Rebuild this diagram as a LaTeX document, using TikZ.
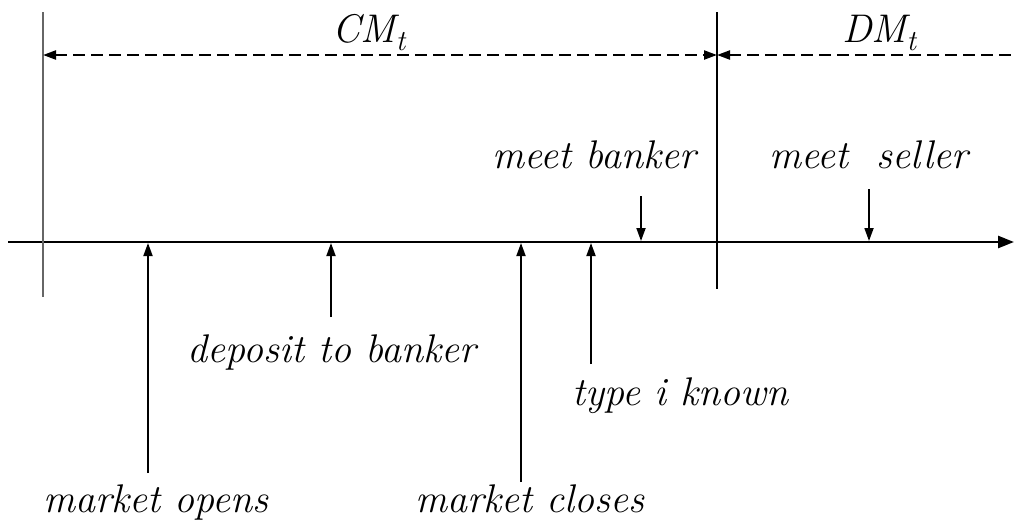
\documentclass[tikz,border=0pt]{standalone}
\usetikzlibrary{arrows.meta}
\newcommand{\subt}{\raisebox{-0.22em}{\fontsize{29}{32}\selectfont\itshape t}}
\begin{document}
\begin{tikzpicture}[x=1pt,y=-1pt,
  lbl/.style={font=\fontsize{40}{48}\selectfont\itshape, anchor=base, inner sep=0pt},
  axis/.style={line width=2.6pt, -{Triangle[length=16pt,width=12pt]}},
  evarr/.style={line width=1.8pt, -{Triangle[length=13pt,width=9pt]}},
  spanline/.style={line width=2.2pt, dash pattern=on 12pt off 6pt},
  divider/.style={line width=1.5pt}
]
\useasboundingbox (0,0) rectangle (1016,523);

% timeline
\coordinate (tl0) at (8,242);
\coordinate (tl1) at (1014,242);
\draw[axis] (tl0) -- (tl1);

% dividers
\coordinate (v1a) at (43,12);
\coordinate (v1b) at (43,297);
\coordinate (v2a) at (717,12);
\coordinate (v2b) at (717,289);
\draw[divider, black!60] (v1a) -- (v1b);
\draw[divider] (v2a) -- (v2b);

% spans
\coordinate (d1) at (43,55);
\coordinate (d2) at (717,55);
\coordinate (d3) at (1016,55);
\draw[spanline, {Triangle[length=13pt,width=9pt]}-{Triangle[length=13pt,width=9pt]}] (d1) -- (d2);
\draw[spanline, {Triangle[length=13pt,width=9pt]}-] (d2) -- (d3);

\node[lbl] (cm) at (369,42) {CM\subt};
\node[lbl] (dm) at (879,42) {DM\subt};

% labels
\node[lbl] (mb) at (594,168) {meet banker};
\node[lbl] (ms) at (869,168) {meet\ \ seller};
\node[lbl] (dep) at (332,362) {deposit to banker};
\node[lbl] (ti) at (680,405) {type i known};
\node[lbl] (mo) at (156,512) {market opens};
\node[lbl] (mc) at (530,512) {market closes};

% event arrows
\coordinate (mbT) at (641,196); \coordinate (mbH) at (641,241);
\coordinate (msT) at (869,189); \coordinate (msH) at (869,241);
\coordinate (moT) at (148,473); \coordinate (moH) at (148,243);
\coordinate (depT) at (331,317); \coordinate (depH) at (331,243);
\coordinate (mcT) at (521,482); \coordinate (mcH) at (521,243);
\coordinate (tiT) at (591,364); \coordinate (tiH) at (591,243);
\draw[evarr] (mbT) -- (mbH);
\draw[evarr] (msT) -- (msH);
\draw[evarr] (moT) -- (moH);
\draw[evarr] (depT) -- (depH);
\draw[evarr] (mcT) -- (mcH);
\draw[evarr] (tiT) -- (tiH);
\end{tikzpicture}
\end{document}
